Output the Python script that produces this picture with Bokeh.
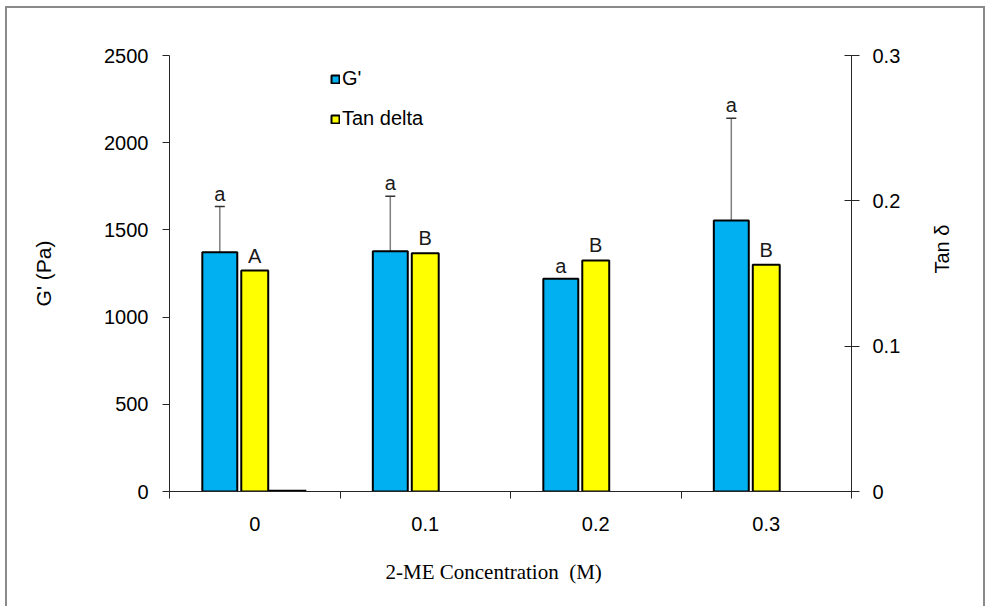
import math
from bokeh.plotting import figure
from bokeh.models import (Range1d, LinearAxis, FixedTicker, Whisker, TeeHead,
                          ColumnDataSource, Legend, LegendItem, LabelSet, Title)
from bokeh.core.properties import value
from bokeh.embed import file_html
from bokeh.resources import INLINE

# Data
concentrations = ["0", "0.1", "0.2", "0.3"]
g_prime = [1372, 1378, 1220, 1554]          # G' (Pa)
g_prime_err = [262, 315, 0, 586]            # upper error of G'
tan_delta = [0.152, 0.164, 0.159, 0.156]    # Tan delta
g_letters = ["a", "a", "a", "a"]
tan_letters = ["A", "B", "B", "B"]
blank_series = [0.0, None, None, None]      # empty third series (only drawn at 0 M)

G_TICKS = [0, 500, 1000, 1500, 2000, 2500]
TAN_TICKS = [0, 0.1, 0.2, 0.3]
TAN_LABELS = ["0", "0.1", "0.2", "0.3"]

BLUE = "#00B0F0"
YELLOW = "#FFFF00"
SANS = "Liberation Sans"
SERIF = "Liberation Serif"

n = len(concentrations)
centers = [i + 0.5 for i in range(n)]
bounds = [float(i) for i in range(n + 1)]

W, H = 980, 600
p = figure(width=W, height=H, output_backend="svg", toolbar_location=None,
           x_range=Range1d(0, n), y_range=Range1d(0, 2500),
           min_border_left=162, min_border_right=136,
           min_border_top=47, min_border_bottom=117)
p.extra_y_ranges = {"tan": Range1d(0, 0.3)}
p.outline_line_color = None
p.xgrid.visible = False
p.ygrid.visible = False
p.background_fill_color = "white"
p.border_fill_color = "white"
p.styles = {"border-left": "2px solid #8a8a8a", "border-top": "2px solid #8a8a8a",
            "border-right": "2px solid #8a8a8a", "margin-left": "5px",
            "margin-top": "6px"}

AX = "#262626"

# x axis: labels at category centres, tick marks at category boundaries
xa = p.xaxis[0]
xa.ticker = FixedTicker(ticks=centers, minor_ticks=bounds)
xa.major_label_overrides = {c: lab for c, lab in zip(centers, concentrations)}
xa.major_tick_line_color = None
xa.major_tick_in = 0
xa.major_tick_out = 0
xa.minor_tick_line_color = AX
xa.minor_tick_in = 0
xa.minor_tick_out = 7
xa.axis_line_color = AX
xa.major_label_standoff = 18
xa.major_label_text_font = SANS
xa.major_label_text_font_size = "20px"
xa.major_label_text_color = "black"

# x axis title, set a little left of the frame centre
p.add_layout(Title(text="2-ME Concentration\u00a0\u00a0(M)", align="left",
                   offset=216, standoff=49, text_font=SERIF,
                   text_font_size="21px", text_font_style="normal",
                   text_color="black"), "below")

# left axis: G'
ya = p.yaxis[0]
ya.ticker = FixedTicker(ticks=G_TICKS, minor_ticks=[])
ya.major_tick_in = 0
ya.major_tick_out = 7
ya.major_tick_line_color = AX
ya.axis_line_color = AX
ya.minor_tick_line_color = None
ya.major_label_standoff = 14
ya.major_label_text_font = SANS
ya.major_label_text_font_size = "20px"
ya.major_label_text_color = "black"
ya.axis_label = "G' (Pa)"
ya.axis_label_text_font = SANS
ya.axis_label_text_font_style = "normal"
ya.axis_label_text_font_size = "21px"
ya.axis_label_text_color = "black"
ya.axis_label_standoff = 46

# right axis: Tan delta
ra = LinearAxis(y_range_name="tan",
                ticker=FixedTicker(ticks=TAN_TICKS, minor_ticks=[]))
ra.major_label_overrides = {t: lab for t, lab in zip(TAN_TICKS, TAN_LABELS)}
ra.major_tick_in = 7
ra.major_tick_out = 8
ra.major_tick_line_color = AX
ra.axis_line_color = AX
ra.minor_tick_line_color = None
ra.major_label_standoff = 13
ra.major_label_text_font = SANS
ra.major_label_text_font_size = "20px"
ra.major_label_text_color = "black"
ra.axis_label = "Tan \u03b4"
ra.axis_label_text_font = SANS
ra.axis_label_text_font_style = "normal"
ra.axis_label_text_font_size = "20px"
ra.axis_label_text_color = "black"
ra.axis_label_standoff = 39
if "axis_label_orientation" in ra.properties():
    # read bottom-to-top, like the left title
    ra.axis_label_orientation = math.pi / 2
p.add_layout(ra, "right")

# bar geometry inside each category
BLUE_OFF, BLUE_W = -0.205, 0.205
YEL_OFF, YEL_W = 0.0, 0.158
BLK_OFF, BLK_W = 0.19, 0.225

g_src = ColumnDataSource(dict(
    x=[c + BLUE_OFF for c in centers], top=g_prime,
    label_y=[g + e for g, e in zip(g_prime, g_prime_err)],
    letter=g_letters))
t_src = ColumnDataSource(dict(
    x=[c + YEL_OFF for c in centers], top=tan_delta, letter=tan_letters))

blk_x = [c + BLK_OFF for c, v in zip(centers, blank_series) if v is not None]
blk_top = [v for v in blank_series if v is not None]
p.vbar(x=blk_x, top=blk_top, bottom=0, width=BLK_W,
       fill_color="black", line_color="black", line_width=3.5)

g_bars = p.vbar(x="x", top="top", bottom=0, width=BLUE_W, source=g_src,
                fill_color=BLUE, line_color="black", line_width=2)
t_bars = p.vbar(x="x", top="top", bottom=0, width=YEL_W, source=t_src,
                y_range_name="tan",
                fill_color=YELLOW, line_color="black", line_width=2)

# upper error bars on G'
err_idx = [i for i, e in enumerate(g_prime_err) if e > 0]
e_src = ColumnDataSource(dict(
    x=[centers[i] + BLUE_OFF for i in err_idx],
    lower=[g_prime[i] for i in err_idx],
    upper=[g_prime[i] + g_prime_err[i] for i in err_idx]))
p.add_layout(Whisker(source=e_src, base="x", lower="lower", upper="upper",
                     dimension="height", line_color="#7f7f7f", line_width=1.5,
                     lower_head=None,
                     upper_head=TeeHead(size=10, line_color="#333333",
                                        line_width=1.5)))

# significance letters
p.add_layout(LabelSet(x="x", y="label_y", text="letter", source=g_src,
                      text_font=value(SANS), text_font_size=value("20px"),
                      text_color="#1a1a1a", text_align="center",
                      text_baseline="alphabetic", y_offset=6))
p.add_layout(LabelSet(x="x", y="top", text="letter", source=t_src,
                      y_range_name="tan",
                      text_font=value(SANS), text_font_size=value("20px"),
                      text_color="#1a1a1a", text_align="center",
                      text_baseline="alphabetic", y_offset=8))

legend = Legend(items=[LegendItem(label="G'", renderers=[g_bars]),
                       LegendItem(label="Tan delta", renderers=[t_bars])],
                location=(161, 361), orientation="vertical")
legend.glyph_width = 10
legend.glyph_height = 10
legend.label_text_font = SANS
legend.label_text_font_size = "20px"
legend.label_text_color = "black"
legend.label_standoff = 2
legend.label_height = 20
legend.spacing = 17
legend.padding = 0
legend.margin = 0
legend.border_line_color = None
legend.background_fill_alpha = 0
p.add_layout(legend)

open("out.html", "w").write(file_html(p, INLINE))
